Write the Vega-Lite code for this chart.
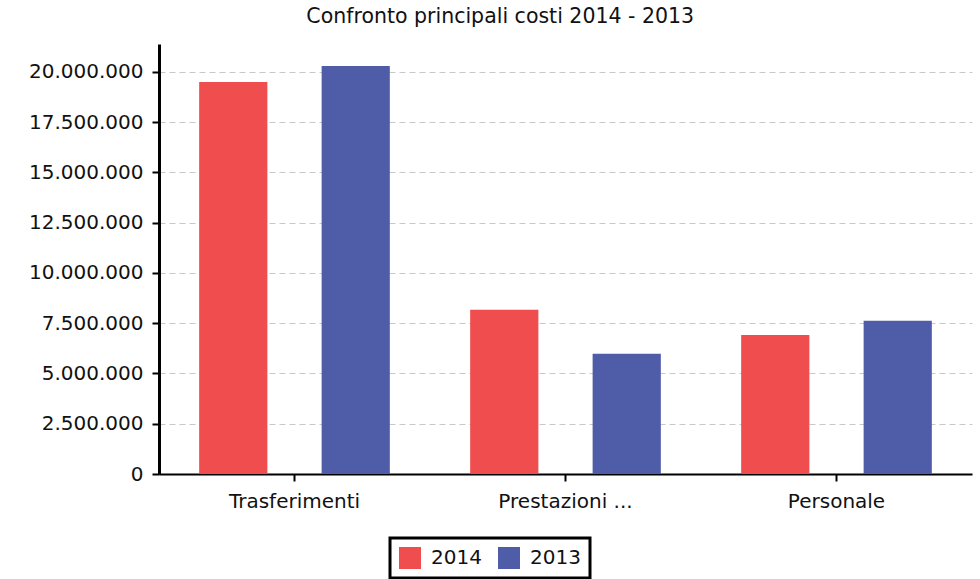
{
  "$schema": "https://vega.github.io/schema/vega-lite/v6.json",
  "autosize": {"type": "none"},
  "padding": {"left": 159, "top": 44, "right": 8, "bottom": 105},
  "width": 813,
  "height": 430,
  "config": {
    "font": "DejaVu Sans",
    "view": {"stroke": null}
  },
  "title": {
    "text": "Confronto principali costi 2014 - 2013",
    "frame": "bounds",
    "anchor": "middle",
    "fontSize": 20.5,
    "fontWeight": "normal",
    "color": "#111111",
    "offset": 17
  },
  "data": {
    "values": [
      {"voce": "Trasferimenti", "anno": "2014", "valore": 19500000},
      {"voce": "Trasferimenti", "anno": "2013", "valore": 20300000},
      {"voce": "Prestazioni ...", "anno": "2014", "valore": 8170000},
      {"voce": "Prestazioni ...", "anno": "2013", "valore": 5980000},
      {"voce": "Personale", "anno": "2014", "valore": 6920000},
      {"voce": "Personale", "anno": "2013", "valore": 7620000}
    ]
  },
  "mark": {"type": "bar"},
  "encoding": {
    "x": {
      "field": "voce",
      "type": "nominal",
      "sort": null,
      "scale": {"paddingInner": 0, "paddingOuter": 0},
      "axis": {
        "title": null,
        "labelAngle": 0,
        "labelFontSize": 20,
        "labelColor": "#111111",
        "labelPadding": 10,
        "domainColor": "#000000",
        "domainWidth": 2,
        "tickColor": "#000000",
        "tickWidth": 2,
        "tickSize": 7,
        "grid": false
      }
    },
    "xOffset": {
      "field": "anno",
      "type": "nominal",
      "sort": ["2014", "2013"],
      "scale": {"paddingInner": 0.443, "paddingOuter": 0.328}
    },
    "y": {
      "field": "valore",
      "type": "quantitative",
      "scale": {"domain": [0, 21390000], "nice": false},
      "axis": {
        "title": null,
        "values": [0, 2500000, 5000000, 7500000, 10000000, 12500000, 15000000, 17500000, 20000000],
        "labelExpr": "join(split(format(datum.value, ','), ','), '.')",
        "labelFontSize": 20,
        "labelColor": "#111111",
        "labelPadding": 9,
        "domainColor": "#000000",
        "domainWidth": 3,
        "tickColor": "#000000",
        "tickWidth": 2,
        "tickSize": 7,
        "grid": true,
        "gridColor": "#c8c8c8",
        "gridDash": [6, 4],
        "gridWidth": 1.2
      }
    },
    "color": {
      "field": "anno",
      "type": "nominal",
      "sort": ["2014", "2013"],
      "scale": {"domain": ["2014", "2013"], "range": ["#EF4D4E", "#4F5DA9"]},
      "legend": {
        "title": null,
        "orient": "none",
        "legendX": 231,
        "legendY": 494,
        "direction": "horizontal",
        "columns": 2,
        "symbolType": "square",
        "symbolSize": 484,
        "symbolStrokeWidth": 0,
        "labelFontSize": 20,
        "labelColor": "#111111",
        "labelOffset": 10,
        "columnPadding": 16,
        "padding": 9,
        "strokeColor": "#000000",
        "fillColor": "#ffffff",
        "encode": {"legend": {"update": {"strokeWidth": {"value": 3}}}}
      }
    }
  }
}
